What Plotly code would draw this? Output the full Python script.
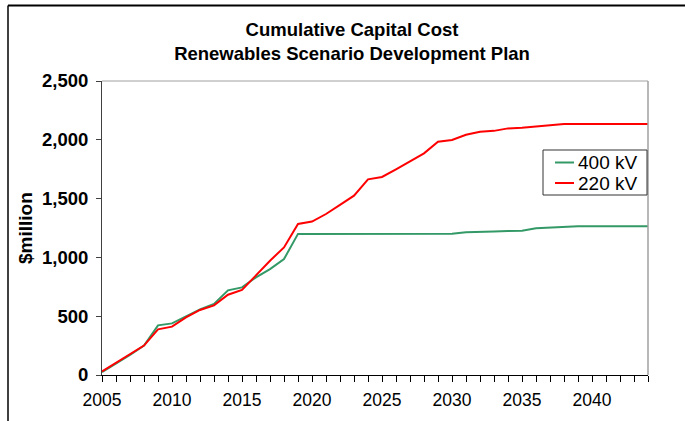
import plotly.graph_objects as go

years = list(range(2005, 2045))
kv400 = [25, 94, 170, 250, 422, 439, 496, 558, 604, 720, 745, 830, 901, 986,
         1200,
         1200, 1200, 1200, 1200, 1200, 1200, 1200, 1200, 1200, 1200, 1202,
         1213, 1219, 1221, 1224, 1227,
         1247, 1253,
         1264, 1264, 1264, 1264, 1264, 1264, 1264]
kv220 = [30, 105, 180, 250, 388, 411, 490, 553, 592, 683, 723, 850, 972, 1085,
         1284, 1305, 1369, 1446, 1525, 1664, 1684, 1749, 1817, 1885, 1983, 1998,
         2043, 2068, 2076, 2097, 2103, 2114, 2120,
         2134, 2134, 2134, 2134, 2134, 2134, 2134]
series_names = ["400 kV", "220 kV"]
series_colors = ["#339966", "#FF0000"]
x_tickvals = [2005, 2010, 2015, 2020, 2025, 2030, 2035, 2040]
y_tickvals = [0, 500, 1000, 1500, 2000, 2500]
y_ticktext = ["<b>0</b>", "<b>500</b>", "<b>1,000</b>", "<b>1,500</b>",
              "<b>2,000</b>", "<b>2,500</b>"]

FONT = "Liberation Sans, Arial, sans-serif"

fig = go.Figure()
for name, vals, col in zip(series_names, [kv400, kv220], series_colors):
    fig.add_trace(go.Scatter(x=years, y=vals, mode="lines", name=name,
                             line=dict(color=col, width=2), showlegend=False))

W, H = 685, 421
L, R, T, B = 102, 648, 81, 375
pw, ph = R - L, B - T


def px(x):
    return (x - L) / pw


def py(y):
    return (B - y) / ph


shapes = [
    dict(type="line", xref="paper", yref="paper", x0=0, x1=1, y0=1, y1=1,
         line=dict(color="#a0a0a0", width=1)),
    dict(type="line", xref="paper", yref="paper", x0=1, x1=1, y0=0, y1=1,
         line=dict(color="#a0a0a0", width=1.5)),
    dict(type="line", xref="paper", yref="paper", x0=px(8), x1=px(690),
         y0=py(5.5), y1=py(5.5), line=dict(color="black", width=2)),
    dict(type="line", xref="paper", yref="paper", x0=px(8), x1=px(8),
         y0=py(5.5), y1=py(430), line=dict(color="black", width=1.5)),
    # legend box
    dict(type="rect", xref="paper", yref="paper", x0=px(543), x1=px(647),
         y0=py(150), y1=py(195), line=dict(color="#333333", width=1),
         fillcolor="white", layer="above"),
]
annotations = [dict(text="<b>$million</b>", x=px(25), y=0.5, xref="paper",
                    yref="paper", textangle=-90, showarrow=False,
                    font=dict(size=19, family=FONT, color="black"),
                    xanchor="center", yanchor="middle")]
for i, (name, col) in enumerate(zip(series_names, series_colors)):
    yy = 162.5 + i * 20.5
    shapes.append(dict(type="line", xref="paper", yref="paper",
                       x0=px(555), x1=px(574), y0=py(yy), y1=py(yy),
                       line=dict(color=col, width=2), layer="above"))
    annotations.append(dict(text=name, x=px(576), y=py(yy), xref="paper",
                            yref="paper", showarrow=False, xanchor="left",
                            yanchor="middle",
                            font=dict(size=19, family=FONT, color="black")))

fig.update_layout(
    width=W, height=H,
    margin=dict(l=L, r=W - R, t=T, b=H - B, pad=0),
    paper_bgcolor="white", plot_bgcolor="white",
    font=dict(family=FONT, color="black"),
    title=dict(text="<b>Cumulative Capital Cost<br>Renewables Scenario Development Plan</b>",
               font=dict(size=18.5, family=FONT, color="black"),
               x=352 / W, xanchor="center", y=1 - 35.5 / H, yanchor="middle",
               xref="container", yref="container"),
    showlegend=False,
    xaxis=dict(range=[2005, 2044], tickvals=x_tickvals, ticks="outside",
               ticklen=6, tickcolor="black", showline=True, linecolor="black",
               linewidth=1, showgrid=False, zeroline=False,
               tickfont=dict(size=17.5, family=FONT), ticklabelstandoff=3,
               minor=dict(dtick=1, tick0=2005, ticks="outside", ticklen=6,
                          tickcolor="black", showgrid=False)),
    yaxis=dict(range=[0, 2500], tickvals=y_tickvals, ticktext=y_ticktext,
               ticks="outside", ticklen=5, tickcolor="#404040", showline=True,
               linecolor="#404040", linewidth=1, showgrid=False, zeroline=False,
               tickfont=dict(size=18.5, family=FONT), ticklabelstandoff=4),
    annotations=annotations,
    shapes=shapes,
)

fig.write_html("out.html")
